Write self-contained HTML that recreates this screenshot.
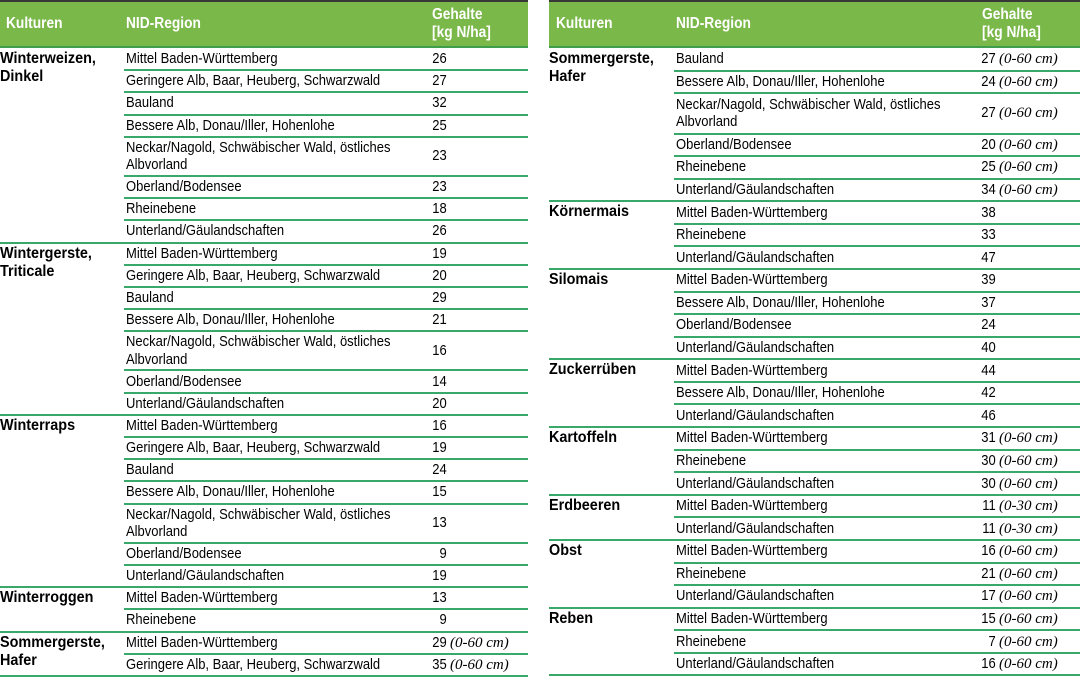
<!DOCTYPE html>
<html><head><meta charset="utf-8">
<style>
html,body{margin:0;padding:0}
body{width:1080px;height:678px;background:#fff;position:relative;overflow:hidden;font-family:"Liberation Sans",sans-serif;color:#000}
.tbl{position:absolute;top:0}
#L{left:0;width:528px}
#R{left:549px;width:531px}
.hd{position:relative;height:48px;background:#7bb84a;color:#fff;font-weight:bold;font-size:16px;line-height:18px}
.hd .bar{position:absolute;left:0;right:0;top:0;height:2px;background:#383838}
.hd .bl{position:absolute;left:0;right:0;top:46px;height:2px;background:#3f9e4c}
.hd .h{position:absolute;white-space:nowrap;transform:scaleX(.86);transform-origin:0 0}
.g{display:flex;position:relative}
.g::after{content:"";position:absolute;left:0;right:0;bottom:-1px;height:2px;background:#38a96b;z-index:2}
.k{flex:none;width:124px;font-weight:bold;font-size:16px;line-height:18px;padding-top:2px;box-sizing:border-box}
#R .k{width:125px}
.k span{display:inline-block;transform:scaleX(.9);transform-origin:0 0;white-space:nowrap}
.rs{flex:1}
.r{display:flex;align-items:center;height:22.2px;position:relative}
.r::after{content:"";position:absolute;left:0;right:0;bottom:-1px;height:2px;background:#38a96b;z-index:1}
.r.d{height:39.2px}
#R .r{height:22.58px}
#R .r.d{height:40.4px}
.a{flex:none;width:308px;padding-left:2px;box-sizing:border-box;font-size:15px;line-height:18px}
#R .a{width:307px}
.d .a{line-height:17.5px}
.t{display:inline-block;transform:scaleX(.866);transform-origin:0 50%;white-space:nowrap}
.v{font-size:15px;line-height:18px;white-space:nowrap}
.n{display:inline-block;width:17px;text-align:right;transform:scaleX(.866);transform-origin:0 50%}
.v i{font-family:"Liberation Serif",serif;font-style:italic;font-size:15px;margin-left:1px}
</style></head><body>

<div class="tbl" id="L">
 <div class="hd">
  <div class="bar"></div>
  <div class="h" style="left:6px;top:15px">Kulturen</div>
  <div class="h" style="left:126px;top:15px">NID-Region</div>
  <div class="h" style="left:432px;top:6px">Gehalte<br>[kg N/ha]</div>
  <div class="bl"></div>
 </div>

 <div class="g"><div class="k"><span>Winterweizen,<br>Dinkel</span></div><div class="rs">
  <div class="r"><div class="a"><span class="t">Mittel Baden-Württemberg</span></div><div class="v"><span class="n">26</span></div></div>
  <div class="r"><div class="a"><span class="t">Geringere Alb, Baar, Heuberg, Schwarzwald</span></div><div class="v"><span class="n">27</span></div></div>
  <div class="r"><div class="a"><span class="t">Bauland</span></div><div class="v"><span class="n">32</span></div></div>
  <div class="r"><div class="a"><span class="t">Bessere Alb, Donau/Iller, Hohenlohe</span></div><div class="v"><span class="n">25</span></div></div>
  <div class="r d"><div class="a"><span class="t">Neckar/Nagold, Schwäbischer Wald, östliches<br>Albvorland</span></div><div class="v"><span class="n">23</span></div></div>
  <div class="r"><div class="a"><span class="t">Oberland/Bodensee</span></div><div class="v"><span class="n">23</span></div></div>
  <div class="r"><div class="a"><span class="t">Rheinebene</span></div><div class="v"><span class="n">18</span></div></div>
  <div class="r"><div class="a"><span class="t">Unterland/Gäulandschaften</span></div><div class="v"><span class="n">26</span></div></div>
 </div></div>

 <div class="g"><div class="k"><span>Wintergerste,<br>Triticale</span></div><div class="rs">
  <div class="r"><div class="a"><span class="t">Mittel Baden-Württemberg</span></div><div class="v"><span class="n">19</span></div></div>
  <div class="r"><div class="a"><span class="t">Geringere Alb, Baar, Heuberg, Schwarzwald</span></div><div class="v"><span class="n">20</span></div></div>
  <div class="r"><div class="a"><span class="t">Bauland</span></div><div class="v"><span class="n">29</span></div></div>
  <div class="r"><div class="a"><span class="t">Bessere Alb, Donau/Iller, Hohenlohe</span></div><div class="v"><span class="n">21</span></div></div>
  <div class="r d"><div class="a"><span class="t">Neckar/Nagold, Schwäbischer Wald, östliches<br>Albvorland</span></div><div class="v"><span class="n">16</span></div></div>
  <div class="r"><div class="a"><span class="t">Oberland/Bodensee</span></div><div class="v"><span class="n">14</span></div></div>
  <div class="r"><div class="a"><span class="t">Unterland/Gäulandschaften</span></div><div class="v"><span class="n">20</span></div></div>
 </div></div>

 <div class="g"><div class="k"><span>Winterraps</span></div><div class="rs">
  <div class="r"><div class="a"><span class="t">Mittel Baden-Württemberg</span></div><div class="v"><span class="n">16</span></div></div>
  <div class="r"><div class="a"><span class="t">Geringere Alb, Baar, Heuberg, Schwarzwald</span></div><div class="v"><span class="n">19</span></div></div>
  <div class="r"><div class="a"><span class="t">Bauland</span></div><div class="v"><span class="n">24</span></div></div>
  <div class="r"><div class="a"><span class="t">Bessere Alb, Donau/Iller, Hohenlohe</span></div><div class="v"><span class="n">15</span></div></div>
  <div class="r d"><div class="a"><span class="t">Neckar/Nagold, Schwäbischer Wald, östliches<br>Albvorland</span></div><div class="v"><span class="n">13</span></div></div>
  <div class="r"><div class="a"><span class="t">Oberland/Bodensee</span></div><div class="v"><span class="n">9</span></div></div>
  <div class="r"><div class="a"><span class="t">Unterland/Gäulandschaften</span></div><div class="v"><span class="n">19</span></div></div>
 </div></div>

 <div class="g"><div class="k"><span>Winterroggen</span></div><div class="rs">
  <div class="r"><div class="a"><span class="t">Mittel Baden-Württemberg</span></div><div class="v"><span class="n">13</span></div></div>
  <div class="r"><div class="a"><span class="t">Rheinebene</span></div><div class="v"><span class="n">9</span></div></div>
 </div></div>

 <div class="g"><div class="k"><span>Sommergerste,<br>Hafer</span></div><div class="rs">
  <div class="r"><div class="a"><span class="t">Mittel Baden-Württemberg</span></div><div class="v"><span class="n">29</span><i>(0-60 cm)</i></div></div>
  <div class="r"><div class="a"><span class="t">Geringere Alb, Baar, Heuberg, Schwarzwald</span></div><div class="v"><span class="n">35</span><i>(0-60 cm)</i></div></div>
 </div></div>
</div>

<div class="tbl" id="R">
 <div class="hd">
  <div class="bar"></div>
  <div class="h" style="left:7px;top:15px">Kulturen</div>
  <div class="h" style="left:127px;top:15px">NID-Region</div>
  <div class="h" style="left:433px;top:6px">Gehalte<br>[kg N/ha]</div>
  <div class="bl"></div>
 </div>

 <div class="g"><div class="k"><span>Sommergerste,<br>Hafer</span></div><div class="rs">
  <div class="r"><div class="a"><span class="t">Bauland</span></div><div class="v"><span class="n">27</span><i>(0-60 cm)</i></div></div>
  <div class="r"><div class="a"><span class="t">Bessere Alb, Donau/Iller, Hohenlohe</span></div><div class="v"><span class="n">24</span><i>(0-60 cm)</i></div></div>
  <div class="r d"><div class="a"><span class="t">Neckar/Nagold, Schwäbischer Wald, östliches<br>Albvorland</span></div><div class="v"><span class="n">27</span><i>(0-60 cm)</i></div></div>
  <div class="r"><div class="a"><span class="t">Oberland/Bodensee</span></div><div class="v"><span class="n">20</span><i>(0-60 cm)</i></div></div>
  <div class="r"><div class="a"><span class="t">Rheinebene</span></div><div class="v"><span class="n">25</span><i>(0-60 cm)</i></div></div>
  <div class="r"><div class="a"><span class="t">Unterland/Gäulandschaften</span></div><div class="v"><span class="n">34</span><i>(0-60 cm)</i></div></div>
 </div></div>

 <div class="g"><div class="k"><span>Körnermais</span></div><div class="rs">
  <div class="r"><div class="a"><span class="t">Mittel Baden-Württemberg</span></div><div class="v"><span class="n">38</span></div></div>
  <div class="r"><div class="a"><span class="t">Rheinebene</span></div><div class="v"><span class="n">33</span></div></div>
  <div class="r"><div class="a"><span class="t">Unterland/Gäulandschaften</span></div><div class="v"><span class="n">47</span></div></div>
 </div></div>

 <div class="g"><div class="k"><span>Silomais</span></div><div class="rs">
  <div class="r"><div class="a"><span class="t">Mittel Baden-Württemberg</span></div><div class="v"><span class="n">39</span></div></div>
  <div class="r"><div class="a"><span class="t">Bessere Alb, Donau/Iller, Hohenlohe</span></div><div class="v"><span class="n">37</span></div></div>
  <div class="r"><div class="a"><span class="t">Oberland/Bodensee</span></div><div class="v"><span class="n">24</span></div></div>
  <div class="r"><div class="a"><span class="t">Unterland/Gäulandschaften</span></div><div class="v"><span class="n">40</span></div></div>
 </div></div>

 <div class="g"><div class="k"><span>Zuckerrüben</span></div><div class="rs">
  <div class="r"><div class="a"><span class="t">Mittel Baden-Württemberg</span></div><div class="v"><span class="n">44</span></div></div>
  <div class="r"><div class="a"><span class="t">Bessere Alb, Donau/Iller, Hohenlohe</span></div><div class="v"><span class="n">42</span></div></div>
  <div class="r"><div class="a"><span class="t">Unterland/Gäulandschaften</span></div><div class="v"><span class="n">46</span></div></div>
 </div></div>

 <div class="g"><div class="k"><span>Kartoffeln</span></div><div class="rs">
  <div class="r"><div class="a"><span class="t">Mittel Baden-Württemberg</span></div><div class="v"><span class="n">31</span><i>(0-60 cm)</i></div></div>
  <div class="r"><div class="a"><span class="t">Rheinebene</span></div><div class="v"><span class="n">30</span><i>(0-60 cm)</i></div></div>
  <div class="r"><div class="a"><span class="t">Unterland/Gäulandschaften</span></div><div class="v"><span class="n">30</span><i>(0-60 cm)</i></div></div>
 </div></div>

 <div class="g"><div class="k"><span>Erdbeeren</span></div><div class="rs">
  <div class="r"><div class="a"><span class="t">Mittel Baden-Württemberg</span></div><div class="v"><span class="n">11</span><i>(0-30 cm)</i></div></div>
  <div class="r"><div class="a"><span class="t">Unterland/Gäulandschaften</span></div><div class="v"><span class="n">11</span><i>(0-30 cm)</i></div></div>
 </div></div>

 <div class="g"><div class="k"><span>Obst</span></div><div class="rs">
  <div class="r"><div class="a"><span class="t">Mittel Baden-Württemberg</span></div><div class="v"><span class="n">16</span><i>(0-60 cm)</i></div></div>
  <div class="r"><div class="a"><span class="t">Rheinebene</span></div><div class="v"><span class="n">21</span><i>(0-60 cm)</i></div></div>
  <div class="r"><div class="a"><span class="t">Unterland/Gäulandschaften</span></div><div class="v"><span class="n">17</span><i>(0-60 cm)</i></div></div>
 </div></div>

 <div class="g"><div class="k"><span>Reben</span></div><div class="rs">
  <div class="r"><div class="a"><span class="t">Mittel Baden-Württemberg</span></div><div class="v"><span class="n">15</span><i>(0-60 cm)</i></div></div>
  <div class="r"><div class="a"><span class="t">Rheinebene</span></div><div class="v"><span class="n">7</span><i>(0-60 cm)</i></div></div>
  <div class="r"><div class="a"><span class="t">Unterland/Gäulandschaften</span></div><div class="v"><span class="n">16</span><i>(0-60 cm)</i></div></div>
 </div></div>
</div>

</body></html>
